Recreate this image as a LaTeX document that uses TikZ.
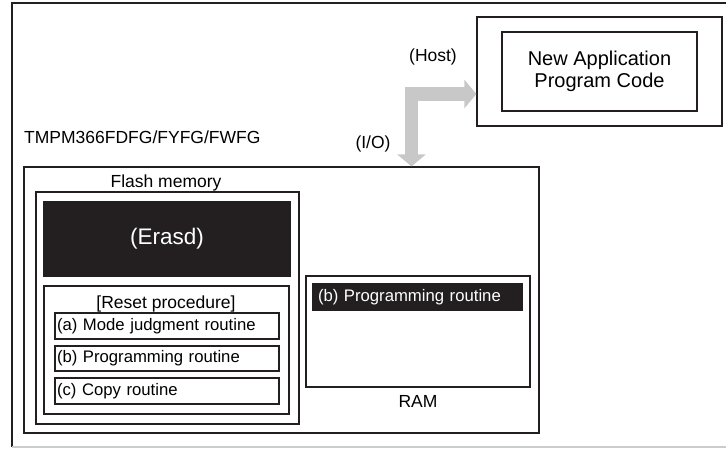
\documentclass[tikz,border=0pt]{standalone}
\usepackage{fontspec}
\setmainfont{Liberation Sans}
\usetikzlibrary{arrows.meta}
\definecolor{inkblack}{RGB}{35,31,32}
\definecolor{arrowgray}{RGB}{200,200,200}
\begin{document}
\begin{tikzpicture}[x=1pt, y=-1pt, every node/.style={font=\fontsize{17.5}{21}\selectfont}, box/.style 2 args={draw=inkblack, line width=1.2pt, inner sep=0pt, minimum width=#1, minimum height=#2}, dark/.style={fill=inkblack, text=white}, routine/.style={box={224pt}{26pt}, text width=220pt, align=left, text height=12pt, text depth=3.5pt, font=\fontsize{16.7}{20}\selectfont}, lbl/.style={inner sep=0pt}, bigarrow/.style={arrowgray, line width=13.5pt, {Triangle[length=12pt, width=28pt]}-{Triangle[length=12pt, width=28pt]}}]
		\useasboundingbox (0,0) rectangle (726,448);
		\draw[line width=1.2pt, inkblack] (740,3) -| (12,447);
		\draw[line width=1.2pt, black!20] (12,447) -- (740,447);
		% host side
		\node[box={245pt}{109pt}] (host) at (599.5,71.5) {};
		\node[box={195pt}{79pt}, align=center, font=\fontsize{20}{22}\selectfont] (code) at (599.5,71.5) {New Application\\Program Code};
		\node[lbl, anchor=base] (hostlbl) at (433,61.5) {(Host)};
		\node[lbl, anchor=base] (iolbl) at (373,148.5) {(I/O)};
		% device
		\node[box={515pt}{266pt}] (chip) at (281.5,300) {};
		\node[lbl, anchor=base west] (chipname) at (24,143.5) {TMPM366FDFG/FYFG/FWFG};
		\node[box={263pt}{232pt}] (flash) at (167.5,308) {};
		\node[lbl, anchor=base] (flashlbl) at (166,187.5) {Flash memory};
		\node[box={246pt}{74pt}, dark, font=\fontsize{22.5}{26}\selectfont] (erased) at (167,239) {(Erasd)};
		\node[box={245pt}{128pt}] (reset) at (166.5,350) {};
		\node[lbl, anchor=base] (resetlbl) at (166,308) {[Reset procedure]};
		\node[routine] (modej) at (167,326) {(a) Mode judgment routine};
		\node[routine, minimum height=25pt] (progr) at (167,358.5) {(b) Programming routine};
		\node[routine] (copyr) at (167,391) {(c) Copy routine};
		\node[box={224pt}{111pt}] (ram) at (418,331.5) {};
		\node[lbl, anchor=base] (ramlbl) at (418,407) {RAM};
		\node[routine, dark, minimum width=209pt, text width=199pt] (ramprog) at (417.5,297) {(b) Programming routine};
		% transfer arrow
		\coordinate (bend) at (411.5,94);
		\draw[bigarrow] (host.west |- bend) -| (chip.north -| bend);
	\end{tikzpicture}
\end{document}
